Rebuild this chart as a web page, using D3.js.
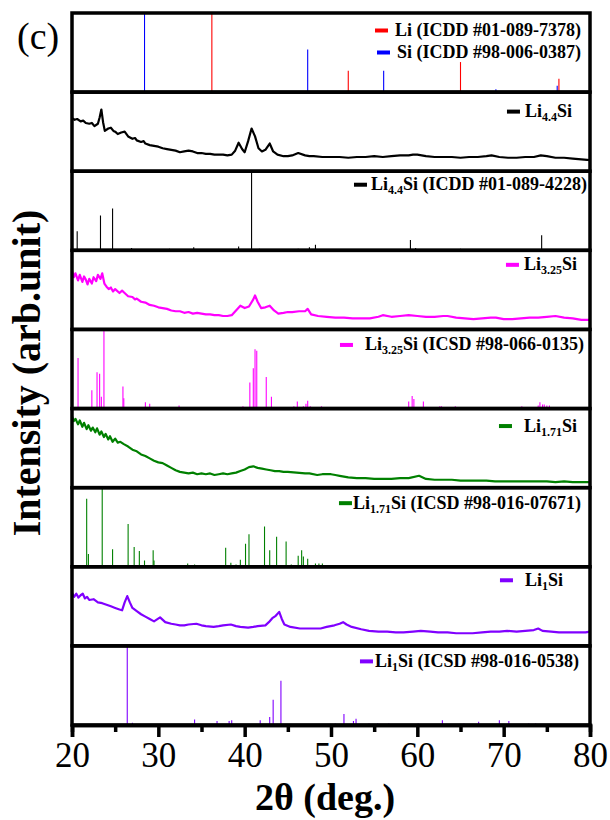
<!DOCTYPE html>
<html><head><meta charset="utf-8">
<script src="https://cdn.jsdelivr.net/npm/d3@7/dist/d3.min.js"></script>
<style>
body{margin:0;background:#fff}
svg text{font-family:"Liberation Serif","Times New Roman","DejaVu Serif",serif;}
</style>
</head><body>
<svg id="chart" width="610" height="820"></svg>
<script>
// ---------------- DATA ----------------
const angleTicks = [20, 30, 40, 50, 60, 70, 80];
const minorTicks = [25, 35, 45, 55, 65, 75];

// reference sticks: [2theta, relative intensity (0-100)]
const liRef = [[36.2,100],[52.0,27],[65.0,38],[76.4,17]];
const siRef = [[28.4,100],[47.3,54],[56.1,27],[69.1,3.5],[76.2,8]];

const li44SiRef = [[20.6,24],[23.3,44],[24.7,53],[26.9,3],[31.3,2],[34.1,4],[39.3,5],[40.8,100],[41.7,2],[46.2,2],[47.5,4],[48.2,7],[59.2,13],[59.8,3],[65.0,2],[74.4,19]];

const li325SiRef = [[20.7,64],[22.3,23],[22.9,46],[23.2,44],[23.4,15],[23.7,100],[25.9,28],[26.0,13],[28.5,8],[29.0,6],[31.5,2],[32.4,4],[32.6,2],[35.0,2],[39.8,3],[40.6,33],[41.0,51],[41.2,75],[41.4,73],[42.5,40],[43.1,15],[45.3,2],[45.7,3],[46.1,9],[46.6,2],[46.8,3],[47.1,6],[47.3,10],[47.6,3],[48.9,3],[50.1,2],[51.7,2],[52.6,2],[59.0,9],[59.4,16],[59.6,12],[60.7,9],[61.9,2],[62.6,3],[62.8,3],[63.1,2],[64.4,3],[65.1,2],[65.5,2],[66.6,2],[68.8,2],[70.4,2],[72.1,3],[74.0,4],[74.2,8],[74.5,5],[74.7,5],[75.0,4],[75.3,4],[77.5,2],[78.8,2],[79.4,2]];

const li171SiRef = [[21.0,2],[21.7,86],[21.9,16],[23.0,2],[23.5,100],[24.7,22],[25.3,2],[26.5,54],[27.2,25],[27.8,20],[28.4,8],[29.4,21],[29.5,8],[30.3,2],[33.4,4],[34.2,3],[35.2,2],[36.6,2],[37.8,24],[38.4,5],[39.0,3],[39.5,9],[40.1,29],[40.5,41],[41.2,2],[42.3,51],[42.9,21],[43.7,38],[44.3,2],[44.8,32],[45.4,3],[46.2,14],[46.6,21],[46.8,13],[47.3,10],[48.2,4],[48.6,4],[49.0,4]];

const li1SiRef = [[26.4,100],[27.0,3],[34.2,7],[36.8,5],[38.2,5],[38.5,6],[41.8,6],[42.9,10],[43.3,32],[44.2,56],[50.5,2],[51.5,14],[52.6,5],[52.9,8],[54.4,2],[55.4,2],[56.7,2],[60.1,2],[62.9,6],[65.4,2],[67.1,4],[69.5,6],[70.6,5],[72.9,2],[73.7,2]];

// measured patterns: [2theta, intensity (0-100)]
const li44Si = [[20,67],[20.3,65],[20.6,66],[21,63],[21.3,64],[21.6,61],[22,60],[22.3,61],[22.6,57],[23,60],[23.2,68],[23.4,78],[23.6,62],[23.8,51],[24.2,54],[24.5,55],[24.8,51],[25,50],[25.3,47],[25.7,49],[26.1,50],[26.5,44],[27,41],[27.3,42],[27.5,39],[28,37],[28.3,38],[28.5,35],[29,33],[29.5,32],[30,31],[30.5,29],[31,28],[31.5,27],[32,26],[32.5,24],[33,25],[33.5,26],[34,25],[34.5,23],[35,23],[35.5,22],[36,22],[36.5,21],[37,21],[37.5,21],[38,20],[38.5,21],[38.9,26],[39.3,36],[39.7,28],[40.0,24],[40.4,38],[40.8,54],[41.2,44],[41.6,29],[42.0,25],[42.4,27],[42.9,35],[43.3,25],[43.8,21],[44.5,19],[45,19],[45.5,20],[46.2,23],[47,20],[47.5,19],[48,19],[49,18],[50,18],[51,18],[52,17],[53,18],[54,18],[55,19],[56,18],[57,19],[58,20],[59,20],[59.5,21],[60,21],[61,19],[62,18],[63,18],[64,18],[65,17],[66,18],[67,18],[68,19],[68.6,20],[69.5,18],[70.5,17],[71.5,17],[72.5,18],[73.5,18],[74.3,20],[75,19],[76,17],[77,17],[78,16],[79,15],[80,14]];

const li325Si = [[20,74],[20.2,66],[20.4,71],[20.7,62],[20.9,69],[21.2,60],[21.4,67],[21.6,63],[21.8,57],[22,64],[22.3,58],[22.5,66],[22.8,61],[23,69],[23.3,64],[23.5,71],[23.75,58],[24,54],[24.25,51],[24.5,53],[24.75,48],[25,51],[25.5,46],[25.8,49],[26,47],[26.5,42],[27,41],[27.3,38],[27.5,39],[28,35],[28.5,34],[29,31],[29.5,30],[30,28],[30.5,27],[31,26],[31.5,24],[32,23],[32.5,23],[33,21],[33.5,22],[34,20],[34.5,21],[35,20],[35.5,19],[36,19],[36.5,18],[37,18],[37.5,17],[38,17],[38.5,18],[39,24],[39.5,30],[40,27],[40.5,29],[41,38],[41.2,43],[41.5,35],[41.9,27],[42.4,28],[42.9,30],[43.4,24],[43.9,20],[44.5,21],[45,22],[45.5,22],[46.3,23],[47,23],[47.3,26],[47.7,19],[48.5,17],[49.5,16],[50.5,15],[51.5,15],[52.5,14],[53.5,14],[54.5,14],[55.5,16],[56,18],[57,16],[58,17],[59,18],[60,17],[61,16],[62,16],[63,17],[63.5,17],[64.5,15],[65.5,14],[66.5,13],[67.5,14],[68.5,15],[69.1,15],[70,13],[71,13],[72,14],[73,15],[74,15],[75,16],[76,17],[77,15],[78,14],[79,12],[80,12]];

const li171Si = [[20,90],[20.2,84],[20.4,87],[20.7,80],[20.9,85],[21.2,77],[21.4,82],[21.7,74],[21.9,79],[22.2,72],[22.4,76],[22.7,70],[22.9,75],[23.2,67],[23.4,71],[23.7,64],[23.9,68],[24.2,61],[24.4,65],[24.7,58],[25,62],[25.3,57],[25.6,58],[26,55],[26.5,52],[27,48],[27.5,46],[28,42],[28.5,40],[29,37],[29.5,34],[30,32],[30.5,31],[31,28],[31.5,25],[32,22],[32.5,20],[33,19],[33.5,18],[34,19],[34.5,17],[35,18],[35.5,17],[36,18],[36.5,16],[37,17],[37.5,18],[38,17],[38.5,18],[39,19],[39.5,21],[40,23],[40.5,26],[41,27],[41.5,25],[42,24],[42.5,23],[43,22],[43.5,21],[44,21],[44.5,20],[45,20],[46,19],[47,18],[47.5,18],[48.4,16],[49,17],[50,17],[50.5,16],[51,15],[52,13],[53,12],[54,12],[55,11],[56,11],[57,11],[58,12],[59,12],[60.2,15],[61,11],[62,10],[63,10],[64,10],[65,9],[66,9],[67,9],[68,9],[69,8],[70,8],[71,8],[72,8],[73,8],[74,8],[75,8],[76,7],[77,8],[78,7],[79,7],[80,7]];

const li1Si = [[20,67],[20.25,62],[20.5,66],[20.75,61],[21,64],[21.25,66],[21.5,60],[21.75,62],[22,58],[22.5,59],[23,55],[23.5,54],[24,52],[24.5,50],[25,48],[25.5,46],[25.8,45],[26.1,55],[26.4,63],[26.7,55],[27,48],[27.5,44],[28,40],[28.5,37],[29,34],[29.5,31],[30.2,36],[30.8,30],[31.5,28],[32,27],[32.5,26],[33,26],[33.5,27],[34.4,28],[35,26],[35.5,25],[36.4,24],[37,25],[37.5,26],[38.4,27],[39,25],[39.5,24],[40.4,23],[41,24],[41.5,25],[42.4,26],[42.8,30],[43.2,35],[43.6,38],[44.0,43],[44.3,34],[44.6,27],[45.3,24],[46.4,22],[47.5,22],[48.8,22],[49.5,24],[50.4,26],[51,28],[51.4,30],[51.8,27],[52.4,24],[53.5,21],[54.4,19],[55.5,18],[56.5,18],[57.5,17],[58.4,17],[59.5,18],[60.4,19],[61.5,18],[62.4,17],[63.5,17],[64.5,16],[65.5,16],[66.4,16],[67.5,17],[68.5,18],[69.5,18],[70.4,19],[71.5,18],[72.5,19],[73.5,20],[74,22],[74.5,19],[75.5,18],[76.4,17],[77.5,17],[78.5,17],[79.5,17],[80,18]];

// legend labels (_{..} = subscript)
const legendLabels = [
  ["Li (ICDD #01-089-7378)", "Si (ICDD #98-006-0387)"],
  ["Li_{4.4}Si"],
  ["Li_{4.4}Si (ICDD #01-089-4228)"],
  ["Li_{3.25}Si"],
  ["Li_{3.25}Si (ICSD #98-066-0135)"],
  ["Li_{1.71}Si"],
  ["Li_{1.71}Si (ICSD #98-016-07671)"],
  ["Li_{1}Si"],
  ["Li_{1}Si (ICSD #98-016-0538)"]
];
const yLabel = "Intensity (arb.unit)";
const xLabel = "2θ (deg.)";
const panelTag = "(c)";

// ---------------- LAYOUT / STYLE ----------------
const colors = {li:"#ff0000", si:"#0000ff", k:"#000000", m:"#ff00ff", g:"#008000", v:"#8000ff"};
const panels = [
  {type:"stick", series:[{data:liRef,c:colors.li},{data:siRef,c:colors.si}], legC:[colors.li,colors.si], end:581, gap:7, dy:23},
  {type:"line", series:[{data:li44Si,c:colors.k}], legC:[colors.k], end:572, gap:5, dy:25},
  {type:"stick", series:[{data:li44SiRef,c:colors.k}], legC:[colors.k], end:587, gap:4, dy:19},
  {type:"line", series:[{data:li325Si,c:colors.m}], legC:[colors.m], end:577, gap:5, dy:20},
  {type:"stick", series:[{data:li325SiRef,c:colors.m}], legC:[colors.m], end:584, gap:12, dy:21},
  {type:"line", series:[{data:li171Si,c:colors.g}], legC:[colors.g], end:577, gap:12, dy:23},
  {type:"stick", series:[{data:li171SiRef,c:colors.g}], legC:[colors.g], end:581, gap:1, dy:21},
  {type:"line", series:[{data:li1Si,c:colors.v}], legC:[colors.v], end:563, gap:12, dy:19},
  {type:"stick", series:[{data:li1SiRef,c:colors.v}], legC:[colors.v], end:579, gap:2, dy:21}
];

const L = 72, R = 590, T = 13, B = 725;
const ph = (B - T) / panels.length;
const svg = d3.select("#chart");
const x = d3.scaleLinear().domain([20, 80]).range([L, R]);
const defs = svg.append("defs");

panels.forEach((p, i) => {
  const top = T + i * ph, bot = top + ph;
  const y = d3.scaleLinear().domain([0, 100]).range([bot, top]);
  defs.append("clipPath").attr("id", "clip" + i)
    .append("rect").attr("x", L).attr("y", top).attr("width", R - L).attr("height", ph);
  const g = svg.append("g").attr("clip-path", `url(#clip${i})`);
  p.series.forEach(s => {
    if (p.type === "stick") {
      g.selectAll(null).data(s.data).enter().append("line")
        .attr("x1", d => x(d[0])).attr("x2", d => x(d[0]))
        .attr("y1", y(0)).attr("y2", d => y(d[1]))
        .attr("stroke", s.c).attr("stroke-width", 1.1);
    } else {
      const line = d3.line().x(d => x(d[0])).y(d => y(d[1]));
      g.append("path").datum(s.data).attr("d", line)
        .attr("fill", "none").attr("stroke", s.c).attr("stroke-width", 2.2)
        .attr("stroke-linejoin", "round");
    }
  });
  // legend
  legendLabels[i].forEach((lab, j) => {
    const baseY = top + p.dy + j * 22;
    const t = svg.append("text").attr("x", p.end).attr("y", baseY)
      .attr("text-anchor", "end")
      .attr("font-weight", "bold").attr("font-size", 18).attr("fill", "#000");
    const parts = lab.split(/(_\{[^}]*\})/).filter(s => s.length);
    let pendingUp = false;
    parts.forEach(part => {
      const m = part.match(/^_\{(.*)\}$/);
      if (m) {
        t.append("tspan").attr("font-size", 12).attr("dy", 4).text(m[1]);
        pendingUp = true;
      } else {
        const ts = t.append("tspan").text(part);
        if (pendingUp) { ts.attr("dy", -4); pendingUp = false; }
      }
    });
    const len = t.node().getComputedTextLength();
    const mw = 13;
    svg.append("rect").attr("x", p.end - len - p.gap - mw).attr("y", baseY - 7.5)
      .attr("width", mw).attr("height", 4).attr("fill", p.legC[j]);
  });
});

// frames
panels.forEach((p, i) => {
  svg.append("rect").attr("x", L).attr("y", T + i * ph).attr("width", R - L).attr("height", ph)
    .attr("fill", "none").attr("stroke", "#000").attr("stroke-width", 3.5);
});

// x axis (ticks outward)
svg.append("g").attr("transform", `translate(0,${B})`)
  .call(d3.axisBottom(x).tickValues(minorTicks).tickSize(7).tickFormat(""));
const axisMaj = svg.append("g").attr("transform", `translate(0,${B})`)
  .call(d3.axisBottom(x).tickValues(angleTicks).tickSize(12).tickFormat(d3.format("d")));
svg.selectAll(".domain").attr("stroke", "#000").attr("stroke-width", 3.5);
svg.selectAll(".tick line").attr("stroke", "#000").attr("stroke-width", 3.5);
axisMaj.attr("font-family", null);
axisMaj.selectAll("text").attr("font-size", 35)
  .attr("fill", "#000").attr("y", 42).attr("dy", 0);

// axis titles
svg.append("text").attr("x", (L + R) / 2 - 6).attr("y", 810)
  .attr("text-anchor", "middle").attr("font-weight", "bold")
  .attr("font-size", 38).text(xLabel);
svg.append("text").attr("transform", "translate(40,373) rotate(-90)")
  .attr("text-anchor", "middle").attr("font-weight", "bold")
  .attr("font-size", 40).text(yLabel);
svg.append("text").attr("x", 17).attr("y", 49)
  .attr("font-size", 38).text(panelTag);
</script>
</body></html>
